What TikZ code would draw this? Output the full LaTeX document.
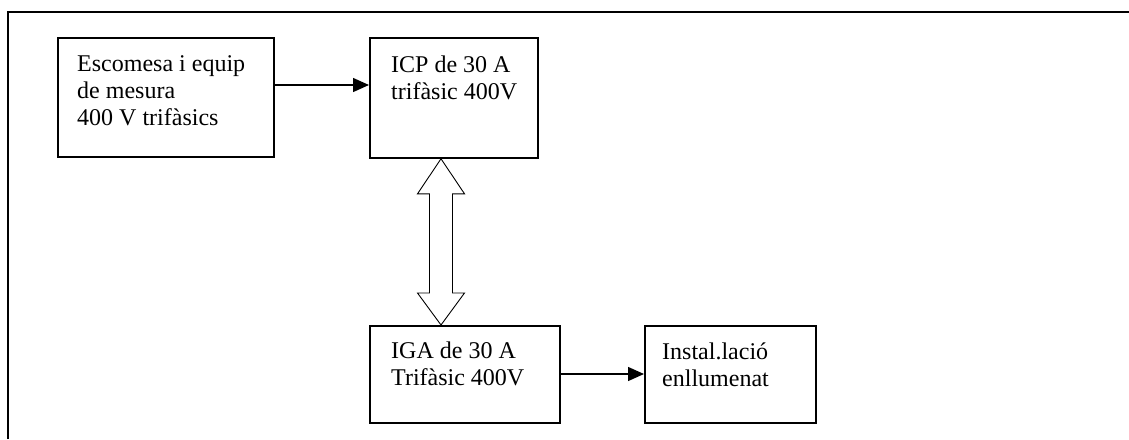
\documentclass[tikz,border=0pt]{standalone}
\usepackage{fontspec}
\setmainfont{Liberation Serif}
\usetikzlibrary{arrows.meta,calc}
\newcommand{\blocklines}[1]{\begin{tabular}[t]{@{}l@{}}#1\end{tabular}}
\tikzset{
  block/.style={draw, line width=1.8pt, inner sep=0pt, anchor=north west},
  blocktext/.style={anchor=base west, inner sep=0pt,
    font=\fontsize{24}{27}\selectfont},
  flow/.style={line width=1.4pt, -{Triangle[length=16pt,width=14pt]}},
  frame/.style={line width=2pt},
  hollow/.style={draw, line width=0.9pt, fill=white, line join=miter}
}
\begin{document}
\begin{tikzpicture}[x=1pt,y=-1pt]
  \useasboundingbox (0,0) rectangle (1129,439);
  % page frame (open at right and bottom)
  \draw[frame] (8,439) -- (8,12) -- (1129,12);

  % blocks
  \node[block, minimum width=216pt, minimum height=119pt] (esc) at (57,37) {};
  \node[block, minimum width=168pt, minimum height=120pt] (icp) at (369,37) {};
  \node[block, minimum width=190pt, minimum height=97pt] (iga) at (369,325) {};
  \node[block, minimum width=171pt, minimum height=97pt] (inst) at (644,325) {};

  % block texts
  \node[blocktext] (esct) at ($(esc.north west)+(20,34)$)
    {\blocklines{Escomesa i equip\\de mesura\\400 V trifàsics}};
  \node[blocktext] (icpt) at ($(icp.north west)+(22,35)$)
    {\blocklines{ICP de 30 A\\trifàsic 400V}};
  \node[blocktext] (igat) at ($(iga.north west)+(22,33)$)
    {\blocklines{IGA de 30 A\\Trifàsic 400V}};
  \node[blocktext] (instt) at ($(inst.north west)+(18,34)$)
    {\blocklines{Instal.lació\\enllumenat}};

  % signal arrows
  \draw[flow] ($(esc.north east)+(0,48)$) -- ($(icp.north west)+(0,48)$);
  \draw[flow] ($(iga.north east)+(0,49)$) -- ($(inst.north west)+(0,49)$);

  % two-way link between ICP and IGA
  \coordinate (up) at ($(icp.south west)+(72,0)$);
  \coordinate (dn) at ($(iga.north west)+(72,0)$);
  \draw[hollow] (up) -- ++(23.5,35) -- ++(-12,0) -- ($(dn)+(11.5,-32)$)
    -- ++(12,0) -- (dn) -- ++(-23.5,-32) -- ++(12,0)
    -- ($(up)+(-11.5,35)$) -- ++(-12,0) -- cycle;
\end{tikzpicture}
\end{document}
